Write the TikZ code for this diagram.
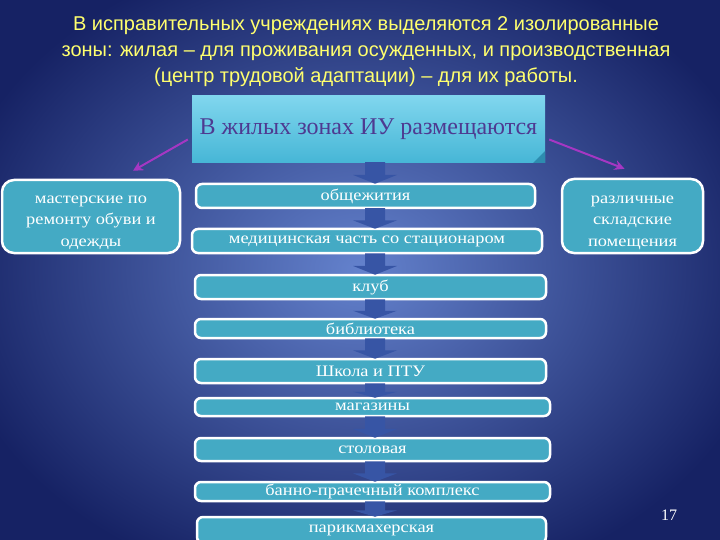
\documentclass[tikz,border=0pt]{standalone}
\usepackage{fontspec}
\setmainfont{Liberation Serif}
\newfontfamily\titlefont{Liberation Sans}
\newfontfamily\boxfont[FakeStretch=1.15]{Liberation Serif}
\usetikzlibrary{calc,arrows.meta}

\definecolor{bgouter}{RGB}{22,34,100}
\definecolor{bginner}{RGB}{100,130,205}
\definecolor{titleyellow}{RGB}{255,255,110}
\definecolor{boxteal}{RGB}{68,170,196}
\definecolor{topcyanlight}{RGB}{128,214,238}
\definecolor{topcyandark}{RGB}{70,182,214}
\definecolor{topfold}{RGB}{45,140,175}
\definecolor{toptext}{RGB}{78,58,145}
\definecolor{blockblue}{RGB}{55,85,165}
\definecolor{zonepurple}{RGB}{165,55,195}

\tikzset{
	item/.style={draw=white, line width=2.5pt, rounded corners=6pt, fill=boxteal,
		text=white, font=\boxfont\fontsize{16}{18}\selectfont, inner sep=0pt},
	sidebox/.style={item, rounded corners=12pt, align=center,
		font=\boxfont\fontsize{16}{21.5}\selectfont},
	topbox/.style={top color=topcyanlight, bottom color=topcyandark, draw=none,
		text=toptext, font=\fontsize{24}{26}\selectfont, inner sep=0pt},
	blockarrow/.style={fill=blockblue, draw=none},
	zonearrow/.style={draw=zonepurple, line width=2pt, -{Stealth[length=10pt,width=10pt]}}
}

\begin{document}
\begin{tikzpicture}[x=1pt, y=-1pt]
		\useasboundingbox (0, 0) rectangle (720, 540);
		\shade [inner color=bginner, outer color=bgouter]	(-60, -60) rectangle (780, 600);

		% heading
		\node [text=titleyellow, font=\titlefont\fontsize{20}{26}\selectfont, align=center]
			(title) at (366, 52) {В исправительных учреждениях выделяются 2 изолированные\\
			зоны: жилая – для проживания осужденных, и производственная\\
			(центр трудовой адаптации) – для их работы.};

		% main box
		\node [topbox, minimum width=353pt, minimum height=67pt] (top) at (368.5, 129.5) {В жилых зонах ИУ размещаются};
		\fill [topfold]	(545, 151) -- (545, 163) -- (533, 163) -- cycle;

		% side boxes
		\node [sidebox, minimum width=178pt, minimum height=73pt] (mast) at (91, 216.5)
			{\rule{0pt}{20pt}мастерские по\\ремонту обуви и\\одежды};
		\node [sidebox, minimum width=141pt, minimum height=74pt] (skl) at (632.5, 216)
			{\rule{0pt}{21pt}различные\\складские\\помещения};

		% list
		\node [item, minimum width=339pt, minimum height=24pt] (b1) at (365.5, 196) {общежития};
		\node [item, minimum width=350pt, minimum height=24pt] (b2) at (367, 241) {медицинская часть со стационаром};
		\node [item, minimum width=351pt, minimum height=24pt] (b3) at (370.5, 287) {клуб};
		\node [item, minimum width=351pt, minimum height=19pt] (b4) at (370.5, 328.5) {библиотека};
		\node [item, minimum width=351pt, minimum height=24pt] (b5) at (370.5, 371) {Школа и ПТУ};
		\node [item, minimum width=355pt, minimum height=18pt] (b6) at (372.5, 407) {магазины};
		\node [item, minimum width=355pt, minimum height=23pt] (b7) at (372.5, 449.5) {столовая};
		\node [item, minimum width=355pt, minimum height=19pt] (b8) at (372.5, 491.5) {банно-прачечный комплекс};
		\node [item, minimum width=349pt, minimum height=26pt] (b9) at (371.5, 530) {парикмахерская};

		\foreach \a/\b in {top/b1, b1/b2, b2/b3, b3/b4, b4/b5, b5/b6, b6/b7, b7/b8, b8/b9}
			\fill [blockarrow] let \p1 = (\a.south), \p2 = (\b.north) in
				(365pt, \y1+1pt) -- (385pt, \y1+1pt) -- (385pt, \y1*0.4+\y2*0.6)
				-- (397pt, \y1*0.4+\y2*0.6) -- (375pt, \y2-1pt)
				-- (353pt, \y1*0.4+\y2*0.6) -- (365pt, \y1*0.4+\y2*0.6) -- cycle;

		\draw [zonearrow]	([xshift=-4pt, yshift=-10pt]top.west) -- ([xshift=42pt, yshift=8pt]mast.north);
		\draw [zonearrow]	([xshift=4pt, yshift=-10pt]top.east) -- ([xshift=-8pt, yshift=9pt]skl.north);

		\node [text=white, font=\fontsize{16}{18}\selectfont] (page) at (669, 515) {17};
\end{tikzpicture}
\end{document}
